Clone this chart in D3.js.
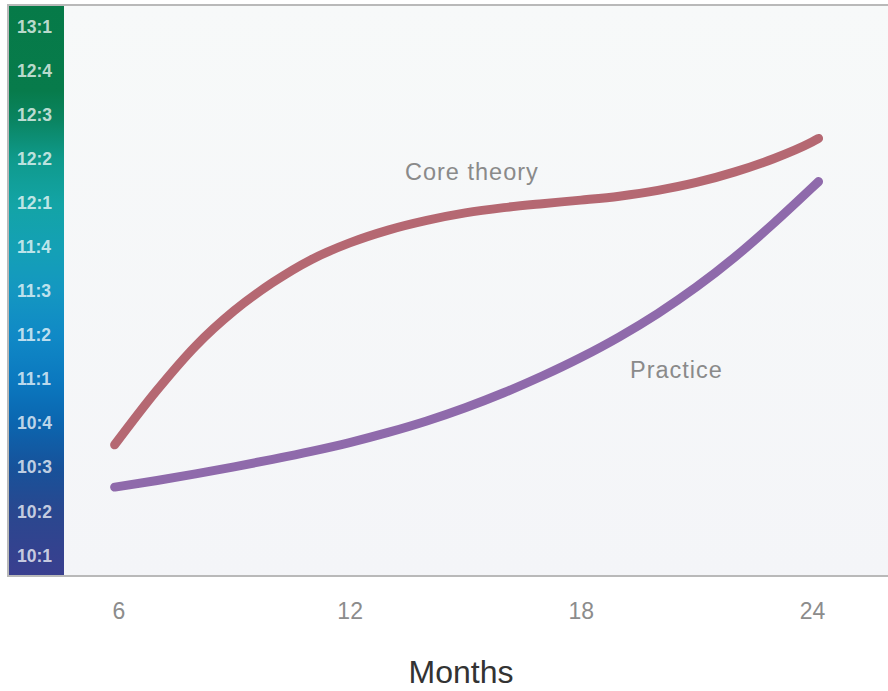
<!DOCTYPE html>
<html>
<head>
<meta charset="utf-8">
<script src="https://cdn.jsdelivr.net/npm/d3@7"></script>
<style>
  html, body { margin: 0; padding: 0; background: #ffffff; }
  svg { display: block; font-family: "Liberation Sans", Arial, sans-serif; }
</style>
</head>
<body>
<svg id="chart" width="888" height="691"></svg>
<script>
// Learning progress over months, on a ratio scale from 10:1 to 13:1
const months = [5.9, 7, 8, 9, 10, 11, 12, 13, 14, 15, 16, 17, 18, 19, 20, 21, 22, 23, 24, 24.17];
const coreTheory = [3.50, 4.74, 5.74, 6.54, 7.18, 7.70, 8.08, 8.37, 8.59, 8.76, 8.88, 8.97, 9.05, 9.14, 9.27, 9.45, 9.69, 9.99, 10.37, 10.45];
const practice = [2.54, 2.69, 2.84, 3.00, 3.17, 3.35, 3.55, 3.78, 4.04, 4.34, 4.68, 5.06, 5.48, 5.95, 6.48, 7.08, 7.76, 8.52, 9.33, 9.47];
const xTicks = [6, 12, 18, 24];
const yTickLabels = ["10:1", "10:2", "10:3", "10:4", "11:1", "11:2", "11:3", "11:4", "12:1", "12:2", "12:3", "12:4", "13:1"];

const svg = d3.select("#chart");
const W = 888;
const plot = { left: 8, top: 5, right: 888, bottom: 576 };
const bar = { left: 9, right: 64 };

const x = d3.scaleLinear().domain([6, 24]).range([118.5, 812]);
const y = d3.scaleLinear().domain([1, 13]).range([555, 26]);

const defs = svg.append("defs");

// plot background
const bg = defs.append("linearGradient").attr("id", "bgGrad")
  .attr("x1", 0).attr("y1", 0).attr("x2", 0).attr("y2", 1);
bg.append("stop").attr("offset", "0%").attr("stop-color", "#f7f9f9");
bg.append("stop").attr("offset", "100%").attr("stop-color", "#f4f5f8");

// ratio bar gradient
const barGrad = defs.append("linearGradient").attr("id", "barGrad")
  .attr("gradientUnits", "userSpaceOnUse")
  .attr("x1", 0).attr("y1", plot.top).attr("x2", 0).attr("y2", plot.bottom);
[
  [0.00, "#067a48"], [0.15, "#077b4b"], [0.20, "#0a8460"], [0.27, "#0f9a8c"],
  [0.35, "#13a4a6"], [0.43, "#14a0b6"], [0.50, "#1497c1"], [0.58, "#1089c6"],
  [0.66, "#0b78bf"], [0.73, "#0b66b0"], [0.81, "#17529a"], [0.89, "#2a478f"],
  [1.00, "#3a3f8f"]
].forEach(([o, c]) => barGrad.append("stop").attr("offset", o).attr("stop-color", c));

svg.append("rect")
  .attr("x", plot.left).attr("y", plot.top)
  .attr("width", plot.right - plot.left).attr("height", plot.bottom - plot.top)
  .attr("fill", "url(#bgGrad)");

svg.append("rect")
  .attr("x", bar.left).attr("y", plot.top)
  .attr("width", bar.right - bar.left).attr("height", plot.bottom - plot.top)
  .attr("fill", "url(#barGrad)");

// frame: top, left, bottom
svg.append("path")
  .attr("d", `M${W},${plot.top}H${plot.left}V${plot.bottom}H${W}`)
  .attr("fill", "none").attr("stroke", "#b9b9b9").attr("stroke-width", 2);

// y axis labels on the bar
const yAxis = d3.axisRight(y)
  .tickValues(d3.range(1, 14))
  .tickFormat(d => yTickLabels[d - 1])
  .tickSize(0).tickPadding(0);
const yg = svg.append("g").attr("transform", `translate(17,0)`).call(yAxis);
yg.select(".domain").remove();
yg.selectAll("text")
  .attr("fill", "rgba(255,255,255,0.74)")
  .attr("font-size", 17.5).attr("font-weight", "bold")
  .attr("font-family", "'Liberation Sans', Arial, sans-serif")
  .attr("text-anchor", "start").attr("dy", "0.35em");

// x axis labels
const xAxis = d3.axisBottom(x).tickValues(xTicks).tickSize(0).tickPadding(0);
const xg = svg.append("g").attr("transform", `translate(0,619)`).call(xAxis);
xg.select(".domain").remove();
xg.selectAll("text")
  .attr("fill", "#8c8c8c").attr("font-size", 23)
  .attr("font-family", "'Liberation Sans', Arial, sans-serif")
  .attr("dy", 0);

svg.append("text")
  .attr("x", 461).attr("y", 683)
  .attr("text-anchor", "middle")
  .attr("font-size", 32).attr("fill", "#333333")
  .text("Months");

// curves
const line = d3.line()
  .x(d => x(d[0])).y(d => y(d[1]))
  .curve(d3.curveMonotoneX);

const series = [
  { name: "Core theory", values: coreTheory, color: "#b56872" },
  { name: "Practice", values: practice, color: "#8f6aab" }
];

svg.append("g").selectAll("path")
  .data(series).join("path")
  .attr("d", s => line(months.map((m, i) => [m, s.values[i]])))
  .attr("fill", "none")
  .attr("stroke", s => s.color)
  .attr("stroke-width", 9)
  .attr("stroke-linecap", "round")
  .attr("stroke-linejoin", "round");

// series labels
svg.append("text")
  .attr("x", 405).attr("y", 179.5)
  .attr("font-size", 23.5).attr("letter-spacing", 1)
  .attr("fill", "#8a8a8a").text("Core theory");
svg.append("text")
  .attr("x", 630).attr("y", 377.5)
  .attr("font-size", 23.5).attr("letter-spacing", 1)
  .attr("fill", "#8a8a8a").text("Practice");
</script>
</body>
</html>
